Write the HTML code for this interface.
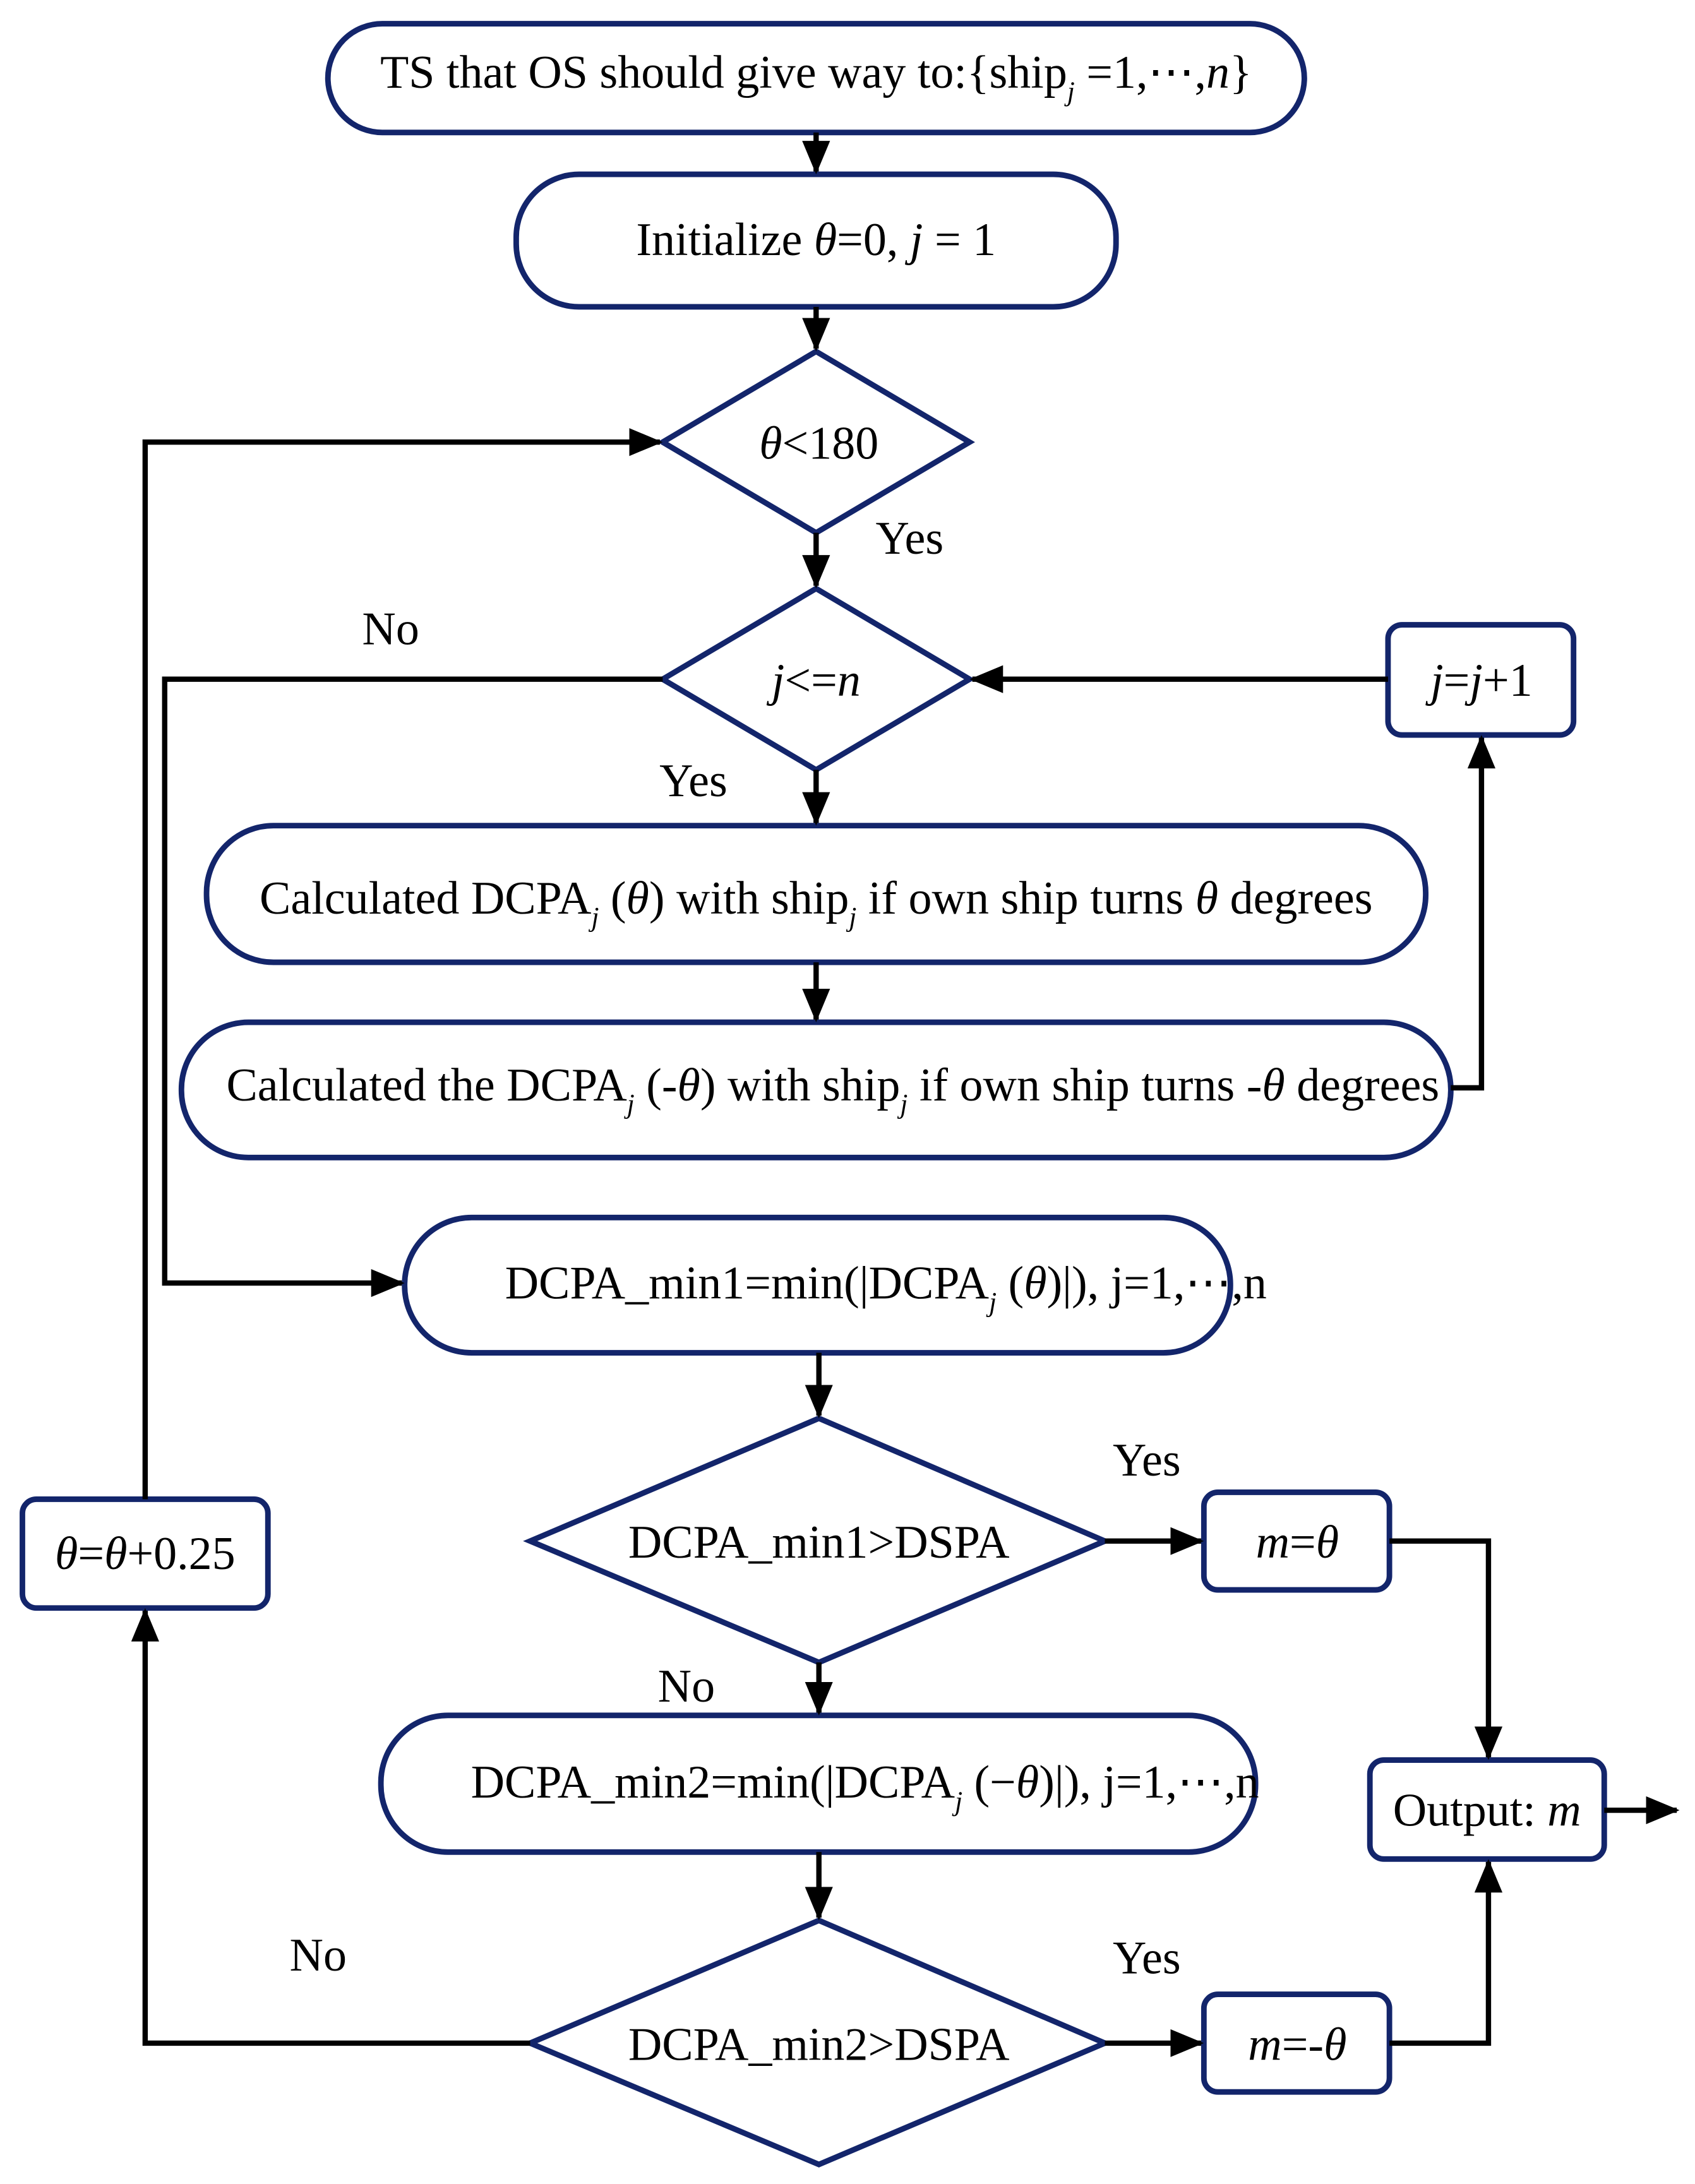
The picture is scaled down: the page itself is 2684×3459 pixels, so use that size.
<!DOCTYPE html>
<html><head><meta charset="utf-8"><style>
html,body{margin:0;padding:0;background:#fff;}
svg{display:block;}
text{font-family:"Liberation Serif",serif;font-size:33.5px;fill:#000;}
.s{fill:#fff;stroke:#13256b;stroke-width:4;}
.l{fill:none;stroke:#000;stroke-width:3.8;}
</style></head><body>
<svg width="2684" height="3459" viewBox="0 0 1215 1566" xmlns="http://www.w3.org/2000/svg">
<defs>
<marker id="b" markerWidth="24" markerHeight="20" refX="22" refY="10" orient="auto" markerUnits="userSpaceOnUse"><path d="M0,0 L24,10 L0,20z" fill="#000"/></marker></defs>

<rect class="s" x="235" y="17" width="700" height="78" rx="39"/>
<rect class="s" x="370" y="125" width="430" height="95" rx="45"/>
<polygon class="s" points="585,252 695,317 585,382 475,317"/>
<polygon class="s" points="585,422 695,487 585,552 475,487"/>
<rect class="s" x="148" y="592" width="874" height="98" rx="48"/>
<rect class="s" x="130" y="733" width="910" height="97" rx="48"/>
<rect class="s" x="995" y="448" width="133" height="79" rx="10"/>
<rect class="s" x="290" y="873" width="592" height="97" rx="48"/>
<polygon class="s" points="587,1017 792,1105 587,1192 380,1105"/>
<rect class="s" x="863" y="1070" width="133" height="70" rx="10"/>
<rect class="s" x="273" y="1230" width="627" height="98" rx="48"/>
<polygon class="s" points="587,1377 792,1465 587,1552 380,1465"/>
<rect class="s" x="863" y="1430" width="133" height="70" rx="10"/>
<rect class="s" x="982" y="1262" width="168" height="71" rx="10"/>
<rect class="s" x="16" y="1075" width="176" height="78" rx="10"/>

<g class="l">
<line x1="585" y1="95" x2="585" y2="123" marker-end="url(#b)"/>
<line x1="585" y1="220" x2="585" y2="250" marker-end="url(#b)"/>
<line x1="585" y1="382" x2="585" y2="420" marker-end="url(#b)"/>
<line x1="585" y1="552" x2="585" y2="590" marker-end="url(#b)"/>
<line x1="585" y1="690" x2="585" y2="731" marker-end="url(#b)"/>
<polyline points="1040,780 1062,780 1062,529" marker-end="url(#b)"/>
<line x1="995" y1="487" x2="697" y2="487" marker-end="url(#b)"/>
<polyline points="475,487 118,487 118,920 288,920" marker-end="url(#b)"/>
<line x1="587" y1="970" x2="587" y2="1015" marker-end="url(#b)"/>
<line x1="792" y1="1105" x2="861" y2="1105" marker-end="url(#b)"/>
<polyline points="996,1105 1067,1105 1067,1260" marker-end="url(#b)"/>
<line x1="587" y1="1192" x2="587" y2="1228" marker-end="url(#b)"/>
<line x1="587" y1="1328" x2="587" y2="1375" marker-end="url(#b)"/>
<line x1="792" y1="1465" x2="861" y2="1465" marker-end="url(#b)"/>
<polyline points="996,1465 1067,1465 1067,1335" marker-end="url(#b)"/>
<line x1="1150" y1="1298" x2="1202" y2="1298" marker-end="url(#b)"/>
<polyline points="380,1465 104,1465 104,1155" marker-end="url(#b)"/>
<polyline points="104,1075 104,317 473,317" marker-end="url(#b)"/>
</g>

<text x="585" y="63" text-anchor="middle">TS that OS should give way to:{ship<tspan font-size="19.5" dy="9" font-style="italic">j</tspan><tspan dy="-9"> =1,⋯,</tspan><tspan font-style="italic">n</tspan>}</text>
<text x="585" y="183" text-anchor="middle">Initialize <tspan font-style="italic">θ</tspan>=0, <tspan font-style="italic">j</tspan> = 1</text>
<text x="587" y="329" text-anchor="middle"><tspan font-style="italic">θ</tspan>&lt;180</text>
<text x="585" y="499" text-anchor="middle"><tspan font-style="italic">j</tspan>&lt;=<tspan font-style="italic">n</tspan></text>
<text x="1062" y="499" text-anchor="middle"><tspan font-style="italic">j</tspan>=<tspan font-style="italic">j</tspan>+1</text>
<text x="585" y="655" text-anchor="middle">Calculated DCPA<tspan font-size="19.5" dy="9" font-style="italic">j</tspan><tspan dy="-9"> (</tspan><tspan font-style="italic">θ</tspan>) with ship<tspan font-size="19.5" dy="9" font-style="italic">j</tspan><tspan dy="-9">  if own ship turns </tspan><tspan font-style="italic">θ</tspan> degrees</text>
<text x="597" y="789" text-anchor="middle">Calculated the DCPA<tspan font-size="19.5" dy="9" font-style="italic">j</tspan><tspan dy="-9"> (-</tspan><tspan font-style="italic">θ</tspan>) with ship<tspan font-size="19.5" dy="9" font-style="italic">j</tspan><tspan dy="-9">  if own ship turns -</tspan><tspan font-style="italic">θ</tspan> degrees</text>
<text x="635" y="931" text-anchor="middle">DCPA_min1=min(|DCPA<tspan font-size="19.5" dy="9" font-style="italic">j</tspan><tspan dy="-9"> (</tspan><tspan font-style="italic">θ</tspan>)|), j=1,⋯,n</text>
<text x="587" y="1117" text-anchor="middle">DCPA_min1&gt;DSPA</text>
<text x="930" y="1117" text-anchor="middle"><tspan font-style="italic">m</tspan>=<tspan font-style="italic">θ</tspan></text>
<text x="620" y="1289" text-anchor="middle">DCPA_min2=min(|DCPA<tspan font-size="19.5" dy="9" font-style="italic">j</tspan><tspan dy="-9"> (−</tspan><tspan font-style="italic">θ</tspan>)|), j=1,⋯,n</text>
<text x="587" y="1477" text-anchor="middle">DCPA_min2&gt;DSPA</text>
<text x="930" y="1477" text-anchor="middle"><tspan font-style="italic">m</tspan>=-<tspan font-style="italic">θ</tspan></text>
<text x="1066" y="1309" text-anchor="middle">Output: <tspan font-style="italic">m</tspan></text>
<text x="104" y="1125" text-anchor="middle"><tspan font-style="italic">θ</tspan>=<tspan font-style="italic">θ</tspan>+0.25</text>
<text x="652" y="397" text-anchor="middle">Yes</text>
<text x="280" y="462" text-anchor="middle">No</text>
<text x="497" y="571" text-anchor="middle">Yes</text>
<text x="822" y="1058" text-anchor="middle">Yes</text>
<text x="492" y="1220" text-anchor="middle">No</text>
<text x="822" y="1415" text-anchor="middle">Yes</text>
<text x="228" y="1413" text-anchor="middle">No</text>
</svg>
</body></html>
